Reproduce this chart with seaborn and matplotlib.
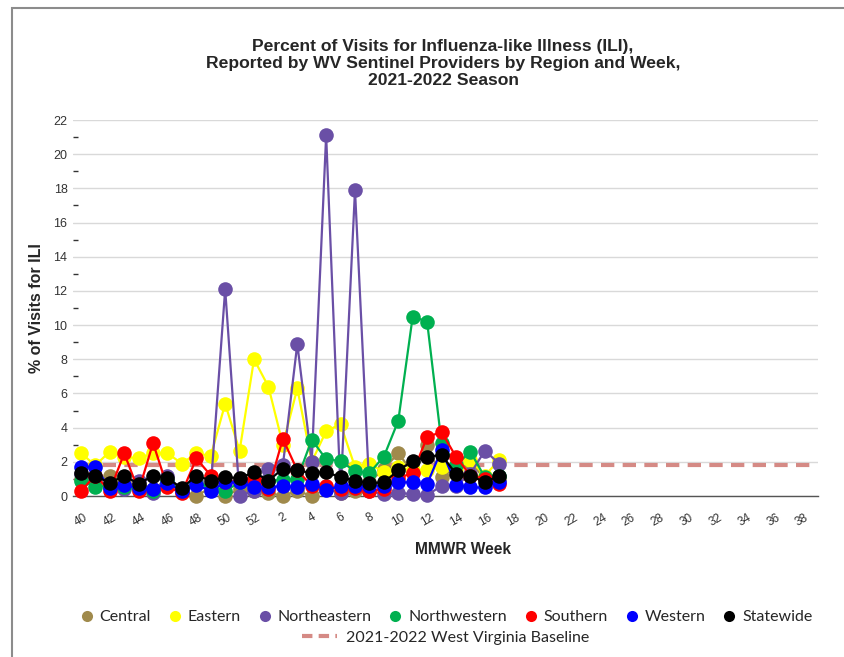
import matplotlib
matplotlib.use("Agg")
import matplotlib.pyplot as plt
from matplotlib.lines import Line2D
from matplotlib.patches import Rectangle
import numpy as np
import pandas as pd
import seaborn as sns

# MMWR weeks of the 2021-2022 season (week 40 through week 39)
weeks = list(range(40, 53)) + list(range(1, 40))

regions = ["Central", "Eastern", "Northeastern", "Northwestern", "Southern", "Western", "Statewide"]
colors = ["#A08A4C", "#FFFF00", "#6A4FA6", "#00B050", "#FF0000", "#0000FF", "#000000"]

# % of visits for ILI, weeks 40..52, 1..17
central = [1.0, 1.0, 1.2, 0.8, 0.6, 0.4, 0.9, 0.3, 0.0, 0.5, 0.0, 0.4, 0.3, 0.2, 0.0,
           0.3, 0.0, 0.4, 0.2, 0.3, 0.8, 1.6, 2.5, 1.4, 3.0, 1.1, 1.7, 2.0, 1.0, 1.0]
eastern = [2.5, 1.8, 2.6, 2.3, 2.2, 2.5, 2.5, 1.9, 2.5, 2.35, 5.4, 2.65, 8.0, 6.4, 3.0,
           6.3, 2.0, 3.8, 4.2, 1.7, 1.9, 1.4, 1.7, 1.5, 1.5, 1.7, 1.6, 2.1, 1.2, 2.1]
northeastern = [1.3, 1.0, 0.5, 0.4, 0.9, 0.2, 1.2, 0.3, 0.9, 0.5, 12.1, 0.0, 0.3, 1.6, 1.8,
                8.9, 2.0, 21.1, 0.2, 17.9, 0.3, 0.1, 0.2, 0.1, 0.05, 0.6, 0.6, 1.3, 2.65, 1.9]
northwestern = [0.9, 0.55, 0.6, 0.5, 0.4, 0.3, 0.9, 0.3, 0.7, 0.6, 0.3, 0.8, 0.7, 0.9, 0.95,
                1.0, 3.3, 2.15, 2.05, 1.45, 1.35, 2.3, 4.4, 10.5, 10.2, 3.1, 1.8, 2.6, 1.1, 1.2]
southern = [0.3, 1.2, 0.3, 2.5, 0.3, 3.1, 0.5, 0.2, 2.2, 1.2, 0.8, 0.9, 1.0, 0.4, 3.35,
            1.5, 0.6, 0.6, 0.4, 0.45, 0.3, 0.4, 1.05, 1.35, 3.45, 3.75, 2.3, 1.2, 1.0, 0.7]
western = [1.7, 1.7, 0.45, 0.65, 0.45, 0.4, 0.75, 0.3, 0.65, 0.3, 0.8, 0.8, 0.5, 0.5, 0.6,
           0.5, 0.7, 0.35, 0.6, 0.6, 0.6, 0.6, 0.8, 0.8, 0.7, 2.7, 0.65, 0.5, 0.5, 0.85]
statewide = [1.35, 1.2, 0.75, 1.2, 0.7, 1.2, 1.05, 0.45, 1.2, 0.9, 1.1, 1.05, 1.4, 0.9, 1.6,
             1.5, 1.35, 1.4, 1.1, 0.9, 0.75, 0.8, 1.5, 2.05, 2.3, 2.4, 1.3, 1.2, 0.8, 1.2]

baseline = 1.8
baseline_label = "2021-2022 West Virginia Baseline"

series = [central, eastern, northeastern, northwestern, southern, western, statewide]
rows = []
for name, vals in zip(regions, series):
    for i, v in enumerate(vals):
        rows.append(dict(pos=i, week=weeks[i], region=name, ili=v))
df = pd.DataFrame(rows)

sns.set_style("white")
plt.rcParams['font.family'] = ['Liberation Sans', 'DejaVu Sans']

fig = plt.figure(figsize=(8.44, 6.57), dpi=100)
ax = fig.add_axes([0.0865, 0.245, 0.8827, 0.5723])

# baseline across the whole season
ax.plot([0, len(weeks) - 1], [baseline, baseline], color="#D58A85", linewidth=3,
        dashes=(3.2, 2), zorder=1.5, solid_capstyle="butt")

sns.lineplot(data=df, x="pos", y="ili", hue="region", hue_order=regions,
             palette=dict(zip(regions, colors)), marker="o", markersize=10.5,
             markeredgewidth=0, linewidth=1.6, legend=False, clip_on=False,
             ax=ax, zorder=3)

ax.set_xlim(-0.55, 51.1)
ax.set_ylim(0, 22)
ax.set_yticks(range(0, 23, 2))
ax.set_yticks(range(1, 22, 2), minor=True)
ax.grid(axis="y", which="major", color="#D9D9D9", linewidth=1)
ax.set_axisbelow(True)
for s in ["left", "right", "top"]:
    ax.spines[s].set_visible(False)
ax.spines["bottom"].set_color("#555555")
ax.spines["bottom"].set_linewidth(1)

ax.set_xticks(range(len(weeks)))
ax.set_xticklabels([str(w) if i % 2 == 0 else "" for i, w in enumerate(weeks)],
                   rotation=30, fontsize=8.5, color="#333333")
ax.tick_params(axis="x", direction="out", length=7, width=1, color="#333333", pad=4)
ax.tick_params(axis="y", which="major", length=0, labelsize=9, labelcolor="#333333", pad=4)
ax.tick_params(axis="y", which="minor", direction="in", length=3.6, width=1, color="#333333", left=True)

ax.set_xlabel("")
ax.set_ylabel("% of Visits for ILI", fontsize=11.5, fontweight="bold", labelpad=7)
fig.text(0.549, 1 - 550 / 657, "MMWR Week", ha="center", va="center",
         fontsize=11.2, fontweight="bold")

fig.text(0.525, 1 - 39 / 657,
         "Percent of Visits for Influenza-like Illness (ILI),\n"
         "Reported by WV Sentinel Providers by Region and Week,\n"
         "2021-2022 Season",
         ha="center", va="top", fontsize=12.6, fontweight="bold", linespacing=1.17)

handles = [Line2D([], [], marker="o", linestyle="", markersize=8, markeredgewidth=0,
                  color=c, label=r) for r, c in zip(regions, colors)]
leg1 = fig.legend(handles=handles, loc="center", bbox_to_anchor=(0.528, 1 - 617 / 657),
                  ncol=7, frameon=False, handletextpad=0.3, columnspacing=1.0,
                  prop=dict(family="Lato", size=11.5), handlelength=1.0)
base_handle = Line2D([], [], color="#D58A85", linewidth=3, dashes=(2.5, 1.5), label=baseline_label)
leg2 = fig.legend(handles=[base_handle], loc="center", bbox_to_anchor=(0.528, 1 - 638 / 657),
                  frameon=False, handletextpad=0.6, handlelength=2.2,
                  prop=dict(family="Lato", size=11.5))

fig.patches.append(Rectangle((12 / 844, -0.01), 1.0, 1 - 8 / 657 + 0.01,
                             transform=fig.transFigure, fill=False,
                             edgecolor="#8C8C8C", linewidth=1.5))

fig.savefig("out.png", dpi=100)
